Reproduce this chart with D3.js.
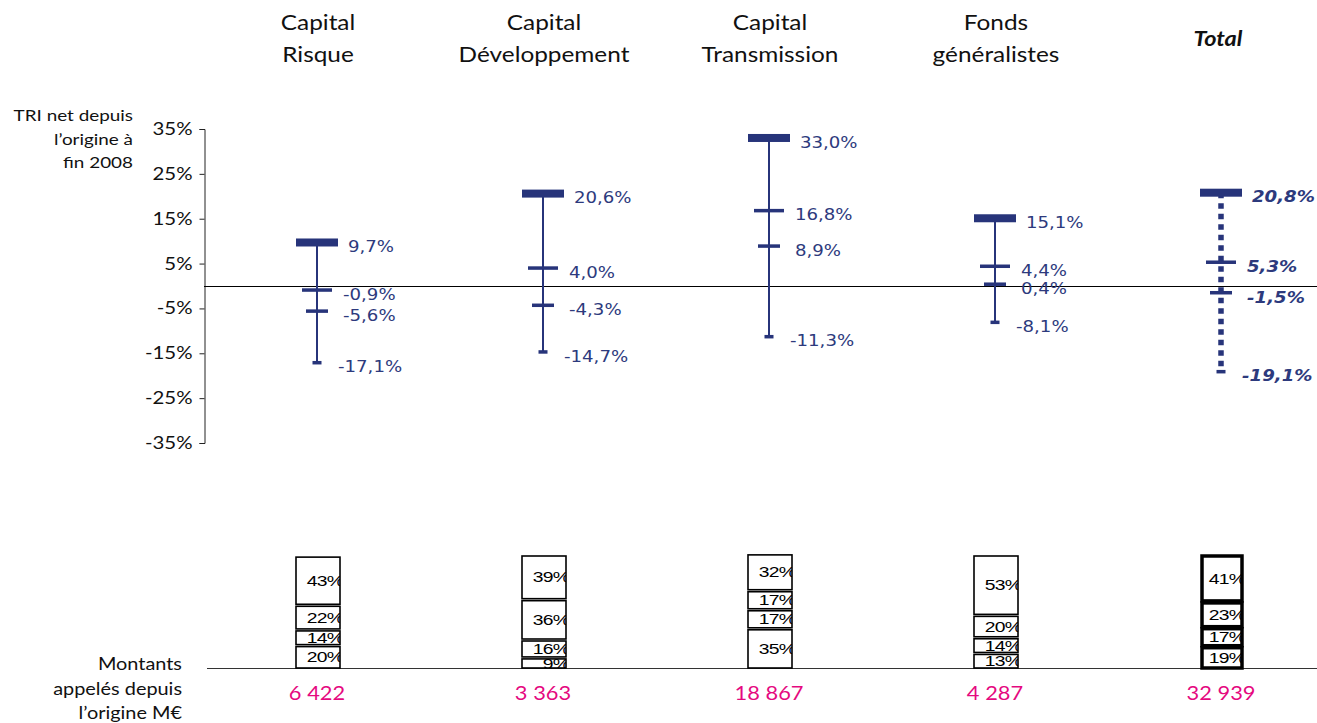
<!DOCTYPE html>
<html><head><meta charset="utf-8">
<script src="https://cdn.jsdelivr.net/npm/d3@7"></script>
<style>
body{margin:0;background:#fff;}
svg{display:block;}
</style></head>
<body>
<svg id="c" width="1317" height="723"></svg>
<script>
const categories = ["Capital Risque","Capital Développement","Capital Transmission","Fonds généralistes","Total"];
const headerLines = [["Capital","Risque"],["Capital","Développement"],["Capital","Transmission"],["Fonds","généralistes"],["Total"]];
const triTop    = [9.7, 20.6, 33.0, 15.1, 20.8];
const triMedian = [-0.9, 4.0, 16.8, 4.4, 5.3];
const triThird  = [-5.6, -4.3, 8.9, 0.4, -1.5];
const triBottom = [-17.1, -14.7, -11.3, -8.1, -19.1];
const yTicks = [35, 25, 15, 5, -5, -15, -25, -35];
// stacked shares, bottom to top
const shareS1 = [20, 9, 35, 13, 19];
const shareS2 = [14, 16, 17, 14, 17];
const shareS3 = [22, 36, 17, 20, 23];
const shareS4 = [43, 39, 32, 53, 41];
const amounts = ["6 422","3 363","18 867","4 287","32 939"];

const svg = d3.select("#c");
const navy = "#27347A";
const txtNavy = "#2D3A7D";
const calib = "Lato, 'Open Sans', sans-serif";
const verd = "'DejaVu Sans', Verdana, sans-serif";

const x = d3.scalePoint().domain(categories).range([317, 1221]);
const y = d3.scaleLinear().domain([-35, 35]).range([443, 129]);
const yb = d3.scaleLinear().domain([0, 100]).range([668, 556]);

// helper: horizontally stretched text
function stext(parent, tx, ty, sx, anchor, str) {
  return parent.append("text")
    .attr("transform", `translate(${tx},${ty}) scale(${sx},1)`)
    .attr("text-anchor", anchor).text(str);
}

// headers
categories.forEach((c, i) => {
  const lines = headerLines[i];
  const isTotal = c === "Total";
  if (isTotal) {
    stext(svg, x(c) - 3, 46, 1.12, "middle", lines[0])
      .attr("font-family", calib).attr("font-size", 21).attr("fill", "#111")
      .attr("font-weight", "bold").attr("font-style", "italic");
  } else {
    lines.forEach((l, j) => stext(svg, x(c) + 1, 30 + j * 32, 1.16, "middle", l)
      .attr("font-family", calib).attr("font-size", 21).attr("fill", "#111"));
  }
});

// left titles
["TRI net depuis", "l’origine à", "fin 2008"].forEach((l, j) =>
  stext(svg, 133, 121 + j * 23.5, 1.18, "end", l).attr("font-family", calib).attr("font-size", 16).attr("fill", "#111"));
["Montants", "appelés depuis", "l’origine M€"].forEach((l, j) =>
  stext(svg, 182, 670 + j * 24.5, 1.17, "end", l).attr("font-family", calib).attr("font-size", 17).attr("fill", "#111"));

// y axis
const ax = svg.append("g").attr("transform", "translate(204.5,0)")
  .call(d3.axisLeft(y).tickValues(yTicks).tickSize(5).tickSizeOuter(5).tickFormat(d => d + "%"));
ax.select(".domain").attr("stroke", "#222");
ax.selectAll(".tick line").attr("stroke", "#222");
ax.selectAll(".tick text").attr("font-family", calib).attr("font-size", 17).attr("fill", "#111")
  .attr("x", -12 / 1.2).attr("transform", "scale(1.2,1)");

// zero line
svg.append("line").attr("x1", 204).attr("x2", 1317).attr("y1", y(0) + 0.5).attr("y2", y(0) + 0.5).attr("stroke", "#000").attr("stroke-width", 1);

// TRI markers
const fmt = v => v.toFixed(1).replace(".", ",") + "%";
categories.forEach((c, i) => {
  const cx = x(c);
  const isTotal = c === "Total";
  const g = svg.append("g");
  g.append("line").attr("x1", cx).attr("x2", cx).attr("y1", y(triTop[i])).attr("y2", y(triBottom[i]))
    .attr("stroke", navy).attr("stroke-width", isTotal ? 5.5 : 2)
    .attr("stroke-dasharray", isTotal ? "5.5,5" : null);
  const marks = [
    {v: triTop[i], w: 42, h: 8, lx: 31},
    {v: triMedian[i], w: 30, h: 3.5, lx: 26},
    {v: triThird[i], w: 22, h: 3.5, lx: 26},
    {v: triBottom[i], w: 9, h: 3.5, lx: 21}
  ];
  let prevLy = -1e9;
  marks.forEach(m => {
    g.append("rect").attr("x", cx - m.w / 2).attr("y", y(m.v) - m.h / 2).attr("width", m.w).attr("height", m.h).attr("fill", navy);
    let ly = y(m.v) + 4;
    if (ly - prevLy < 18) ly = prevLy + 18;
    prevLy = ly;
    stext(g, cx + m.lx, ly, 1.1, "start", fmt(m.v)).attr("dy", "0.35em")
      .attr("font-family", verd).attr("font-size", 16.5).attr("fill", txtNavy)
      .attr("font-weight", isTotal ? "bold" : null).attr("font-style", isTotal ? "italic" : null);
  });
});

// bottom baseline
svg.append("line").attr("x1", 207).attr("x2", 1317).attr("y1", 668.5).attr("y2", 668.5).attr("stroke", "#333").attr("stroke-width", 1);

// stacked boxes
const defs = svg.append("defs");
categories.forEach((c, i) => {
  const cx = x(c) + 1;
  const isTotal = c === "Total";
  const w = isTotal ? 40 : 44;
  const segs = [shareS1[i], shareS2[i], shareS3[i], shareS4[i]];
  let acc = 0;
  segs.forEach((s, j) => {
    const y0 = yb(acc), y1 = yb(acc + s);
    acc += s;
    const top = y1 + (j === 3 ? 0 : 1);
    const bot = y0 - (j === 0 ? 0 : 1);
    const id = "clip" + i + "_" + j;
    defs.append("clipPath").attr("id", id).append("rect")
      .attr("x", cx - w / 2).attr("y", top).attr("width", w).attr("height", Math.max(0, bot - top));
    svg.append("rect").attr("x", cx - w / 2).attr("y", top).attr("width", w).attr("height", Math.max(0, bot - top))
      .attr("fill", "#fff").attr("stroke", "#000").attr("stroke-width", isTotal ? 3.5 : 1.6);
    const gt = svg.append("g").attr("clip-path", "url(#" + id + ")");
    stext(gt, cx + w / 2 + 3, (top + bot) / 2, 1.38, "end", s + "%").attr("dy", "0.36em")
      .attr("font-family", "'Liberation Sans', Arial, sans-serif")
      .attr("font-size", 14).attr("letter-spacing", "-0.6").attr("fill", "#000");
  });
  stext(svg, x(c), 693, 1.15, "middle", amounts[i]).attr("dy", "0.35em")
    .attr("font-family", calib).attr("font-size", 19).attr("fill", "#E5097F");
});
</script>
</body></html>
